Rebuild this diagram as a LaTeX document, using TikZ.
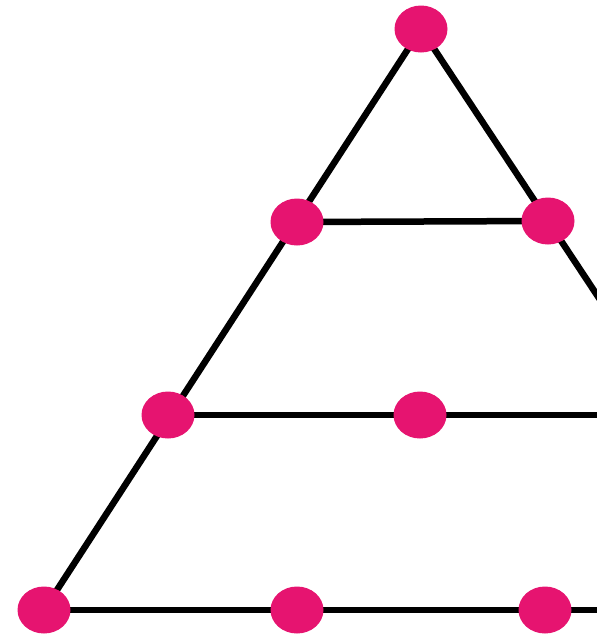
\documentclass[tikz,border=0pt]{standalone}
\usetikzlibrary{shapes.geometric,calc}
\definecolor{dotpink}{RGB}{230,20,112}
\begin{document}
\begin{tikzpicture}[x=1pt,y=-1pt,
  dotnode/.style={ellipse,fill=dotpink,minimum width=53pt,minimum height=47pt,inner sep=0pt},
  edge/.style={line width=6.5pt,black}]
\useasboundingbox (0,0) rectangle (597,638);
\clip (0,0) rectangle (597,638);
\coordinate (A) at (421,29);
\coordinate (B1) at (297,222);
\coordinate (B2) at (548,221);
\coordinate (C1) at (168,415);
\coordinate (C2) at (420,415);
\coordinate (D1) at (44,610);
\coordinate (D2) at (297,610);
\coordinate (D3) at (545,610);
\coordinate (Rend) at ($(A)!1.6!(B2)$);
\coordinate (Cend) at (640,415);
\coordinate (Dend) at (640,610);
\draw[edge] (A) -- (D1);
\draw[edge] (A) -- (Rend);
\draw[edge] (B1) -- (B2);
\draw[edge] (C1) -- (Cend);
\draw[edge] (D1) -- (Dend);
\foreach \p in {A,B1,B2,C1,C2,D1,D2,D3}
  \node[dotnode] (n\p) at (\p) {};
\end{tikzpicture}
\end{document}
